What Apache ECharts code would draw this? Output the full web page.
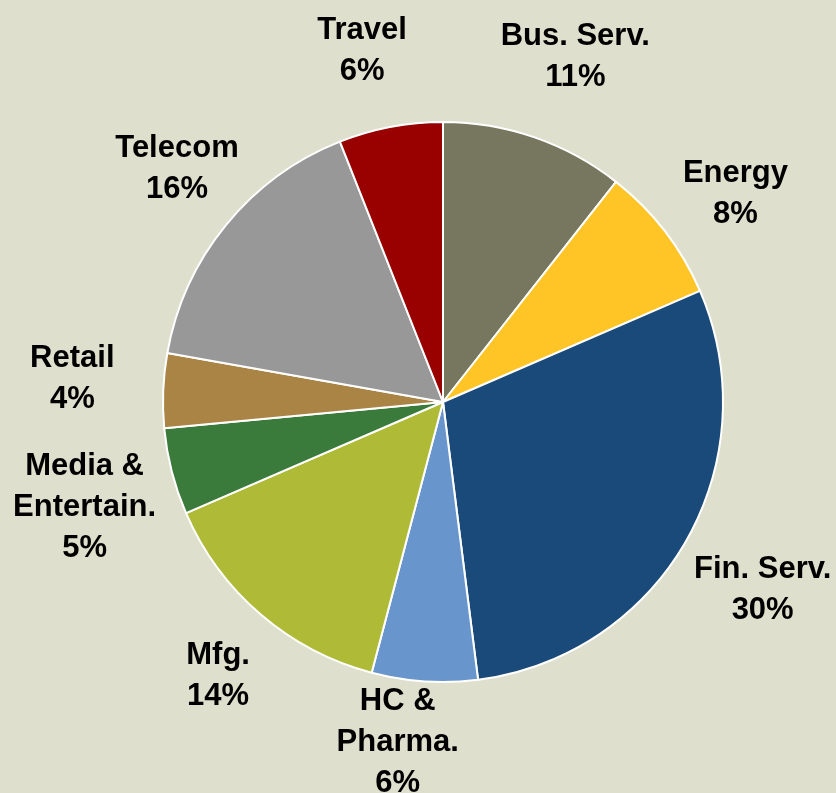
<!DOCTYPE html>
<html>
<head>
<meta charset="utf-8">
<script src="https://cdn.jsdelivr.net/npm/echarts@6/dist/echarts.min.js"></script>
<style>
html,body{margin:0;padding:0;background:#DFDFCE;}
#c{width:836px;height:793px;}
</style>
</head>
<body>
<div id="c"></div>
<script>
// Data
const categories = ["Bus. Serv.", "Energy", "Fin. Serv.", "HC &\nPharma.", "Mfg.", "Media &\nEntertain.", "Retail", "Telecom", "Travel"];
const values = [10.6, 7.9, 29.5, 6.1, 14.4, 5.0, 4.3, 16.2, 6.0];

// Styles
const colors = ["#77775F", "#FFC425", "#1A4A7A", "#6895CC", "#AFBB36", "#3A7A3A", "#AA8444", "#989898", "#990000"];
const labelNudges = [[12, 3], [1, 17], [0, 6], [-21, -27], [15, -5], [-2, 14], [-3, -8], [19, 0], [-12, 10]];

const data = categories.map((n, i) => ({ name: n, value: values[i], itemStyle: { color: colors[i] } }));
const labelData = categories.map((n, i) => ({ name: n, value: values[i], label: { offset: labelNudges[i] } }));

const chart = echarts.init(document.getElementById('c'));
chart.setOption({
  backgroundColor: '#DFDFCE',
  animation: false,
  series: [
    {
      type: 'pie',
      center: [443, 402],
      radius: [0, 280],
      startAngle: 90,
      clockwise: true,
      data: data,
      itemStyle: { borderColor: '#FFFFFF', borderWidth: 2 },
      label: { show: false },
      labelLine: { show: false },
      silent: true
    },
    {
      type: 'pie',
      center: [443, 402],
      radius: [330, 400],
      startAngle: 90,
      clockwise: true,
      data: labelData,
      itemStyle: { color: 'transparent', borderWidth: 0 },
      labelLine: { show: false },
      silent: true,
      label: {
        show: true,
        position: 'inside',
        formatter: p => p.name + '\n' + Math.round(p.percent) + '%',
        fontFamily: 'Liberation Sans, Arial, sans-serif',
        fontWeight: 'bold',
        fontSize: 31,
        lineHeight: 41,
        color: '#000000',
        align: 'center',
        verticalAlign: 'middle'
      }
    }
  ]
});
</script>
</body>
</html>
